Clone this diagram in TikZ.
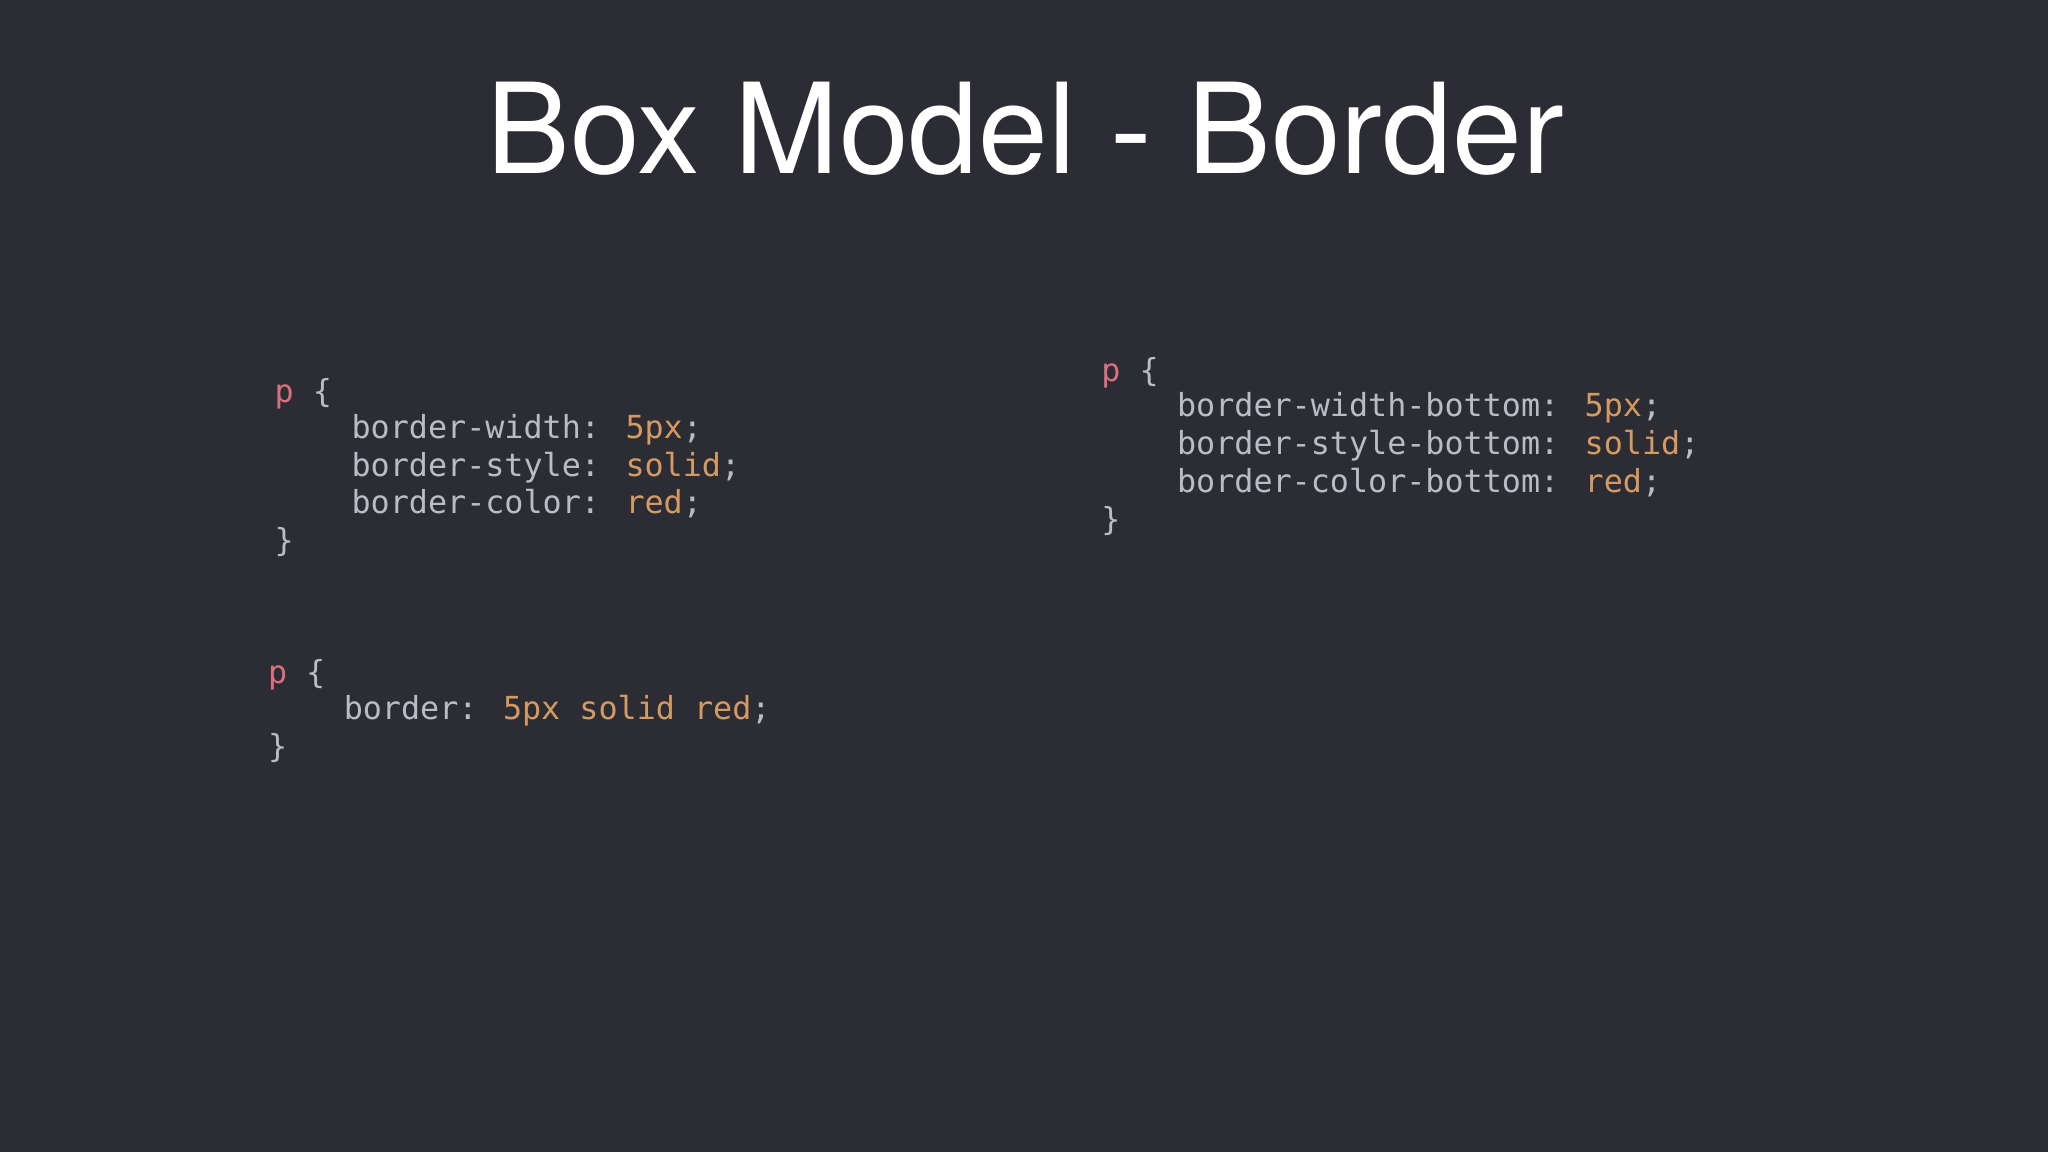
\documentclass[tikz,border=0pt]{standalone}
\usepackage{fontspec}
\newfontfamily\titlefont{TeX Gyre Heros}
\newfontfamily\codefont{DejaVu Sans Mono}
\definecolor{bg}{HTML}{2B2C34}
\definecolor{kw}{HTML}{D8707E}
\definecolor{tx}{HTML}{B9BCC4}
\definecolor{val}{HTML}{D49A62}
\newcommand{\V}[1]{\textcolor{val}{#1}}
\begin{document}
\begin{tikzpicture}[x=1pt,y=-1pt,
  code/.style={anchor=base west,inner sep=0pt,text=tx,font=\codefont\fontsize{24.3}{28}\selectfont}]
\fill[bg] (0,0) rectangle (1568,882);
\useasboundingbox (0,0) rectangle (1568,882);
\node[anchor=base,inner sep=0pt,text=white,font=\titlefont\fontsize{96}{100}\selectfont] (title) at (785,133) {Box Model - Border};
% block 1
\node[code] (a1) at (210,308) {\textcolor{kw}{p} \{};
\node[code] (a2) at (269,336) {border-width: \V{5px};};
\node[code] (a3) at (269,365) {border-style: \V{solid};};
\node[code] (a4) at (269,393) {border-color: \V{red};};
\node[code] (a5) at (210,422) {\}};
% block 2
\node[code] (b1) at (205,523) {\textcolor{kw}{p} \{};
\node[code] (b2) at (263,551) {border: \V{5px solid red};};
\node[code] (b3) at (205,580) {\}};
% block 3
\node[code] (c1) at (843,292) {\textcolor{kw}{p} \{};
\node[code] (c2) at (901,319) {border-width-bottom: \V{5px};};
\node[code] (c3) at (901,348) {border-style-bottom: \V{solid};};
\node[code] (c4) at (901,377) {border-color-bottom: \V{red};};
\node[code] (c5) at (843,406) {\}};
\end{tikzpicture}
\end{document}
